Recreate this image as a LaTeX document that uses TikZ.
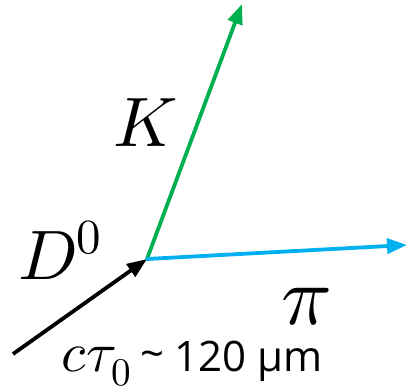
\documentclass[tikz,border=0pt]{standalone}
\usepackage{fontspec}
\usepackage{unicode-math}
\setmainfont{Open Sans}
\setmathfont{Latin Modern Math}
\usetikzlibrary{arrows.meta}
\definecolor{kgreen}{HTML}{00B050}
\definecolor{piblue}{HTML}{00B0F0}
\tikzset{
  track/.style={line width=3.8pt, -{Triangle[length=20pt,width=15pt]}},
  biglabel/.style={font=\fontsize{70}{72}\selectfont, inner sep=0pt},
}
\begin{document}
\begin{tikzpicture}[x=1pt,y=-1pt]
\useasboundingbox (0,0) rectangle (408,390);
\coordinate (start) at (13,354);
\coordinate (vtx) at (147,259);
\coordinate (ktip) at (242,4);
\coordinate (pitip) at (407,245);
\draw[track, black] (start) -- (vtx);
\draw[track, kgreen, shorten <=-1pt] (vtx) -- (ktip);
\draw[track, piblue, shorten <=-1pt] (vtx) -- (pitip);
\node[biglabel] (klab) at (146,123) {$K$};
\node[biglabel] (dlab) at (60,250) {$D^0$};
\node[biglabel, font=\fontsize{84}{86}\selectfont] (pilab) at (306,307) {$\pi$};
\node[anchor=base west, inner sep=0pt, font=\fontsize{42}{44}\selectfont] (ctau) at (61,372) {{\fontsize{56}{58}\selectfont$c\tau_0$}\hspace{9pt}\raisebox{3pt}{\~{}}\hspace{10pt}120 µm};
\end{tikzpicture}
\end{document}
